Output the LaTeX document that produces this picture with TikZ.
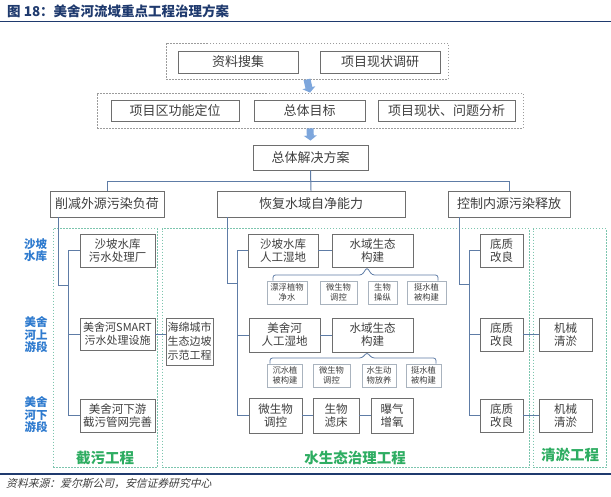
\documentclass[tikz,border=0pt]{standalone}
\usepackage{fontspec}
\setmainfont{Noto Sans CJK SC}
\newfontfamily\srcfont[FakeSlant=0.25]{Noto Sans CJK SC}
\usetikzlibrary{arrows.meta}
\definecolor{boxc}{HTML}{6E6E6E}
\definecolor{sboxc}{HTML}{A9B3BE}
\definecolor{txtc}{HTML}{3F3F3F}
\definecolor{grpc}{HTML}{9C9C9C}
\definecolor{ggrpc}{HTML}{7CC5AE}
\definecolor{lnc}{HTML}{5E7CA6}
\definecolor{arrc}{HTML}{7DA6DC}
\definecolor{sidec}{HTML}{2F7BCF}
\definecolor{greenc}{HTML}{2EAD62}
\definecolor{navyc}{HTML}{1F3A6E}
\tikzset{
  bx/.style={draw=boxc, line width=0.9pt, fill=white, text=txtc, align=center, inner sep=0pt, font=\fontsize{13}{15}\selectfont},
  ibx/.style={bx, font=\fontsize{11.5}{13}\selectfont},
  sbx/.style={draw=sboxc, line width=0.7pt, fill=white, text=txtc, align=center, inner sep=0pt, font=\fontsize{8.3}{10.5}\selectfont},
  grp/.style={draw=grpc, line width=0.8pt, dash pattern=on 1.5pt off 1.5pt, inner sep=0pt},
  ggrp/.style={draw=ggrpc, line width=0.8pt, dash pattern=on 1.5pt off 1.5pt, inner sep=0pt},
  ln/.style={draw=lnc, line width=1pt},
  brc/.style={draw=lnc, line width=0.8pt, rounded corners=2.5pt},
  blkarrow/.style={draw=arrc, line width=7pt, -{Triangle[width=13pt,length=5pt]}},
  side/.style={text=sidec, align=center, inner sep=0pt, font=\bfseries\fontsize{11.5}{12.5}\selectfont},
  glabel/.style={text=greenc, inner sep=0pt, font=\bfseries\fontsize{14.5}{16}\selectfont}
}
\begin{document}
\begin{tikzpicture}[x=1pt,y=-1pt]
\useasboundingbox (0,0) rectangle (611,496);
\fill[white] (0,0) rectangle (611,496);
% title and rules
\node[anchor=west, text=navyc, inner sep=0pt, font=\bfseries\fontsize{13.5}{15}\selectfont] (title) at (7,11) {图 18：美舍河流域重点工程治理方案};
\draw[navyc, line width=1.2pt] (0,21.5) -- (611,21.5);
\draw[navyc, line width=1.2pt] (0,474) -- (611,474);
\node[anchor=west, text=txtc, inner sep=0pt, font=\srcfont\fontsize{10.8}{12}\selectfont] (src) at (6,483.5) {资料来源：爱尔斯公司，安信证券研究中心};

% groups
\node[grp, minimum width=282pt, minimum height=36pt] (g1) at (307,61) {};
\node[grp, minimum width=426pt, minimum height=35pt] (g2) at (310,110.5) {};
\node[ggrp, minimum width=104pt, minimum height=239pt] (gj) at (105,348) {};
\node[ggrp, minimum width=367pt, minimum height=239pt] (gs) at (345.5,348) {};
\node[ggrp, minimum width=73pt, minimum height=239pt] (gq) at (569.5,348) {};
\node[glabel] (lj) at (105,458) {截污工程};
\node[glabel] (ls) at (355,458) {水生态治理工程};
\node[glabel] (lq) at (570,455) {清淤工程};

% side labels
\node[side] (sd1) at (35.5,250) {沙坡\\水库};
\node[side] (sd2) at (36,335) {美舍\\河上\\游段};
\node[side] (sd3) at (36,415) {美舍\\河下\\游段};

% top boxes
\node[bx, minimum width=120pt, minimum height=22pt] (zl) at (238,62) {资料搜集};
\node[bx, minimum width=120pt, minimum height=22pt] (xz) at (380,62) {项目现状调研};
\node[bx, minimum width=128pt, minimum height=21pt] (gn) at (175,110.5) {项目区功能定位};
\node[bx, minimum width=111pt, minimum height=21pt] (mb) at (309.5,110.5) {总体目标};
\node[bx, minimum width=137pt, minimum height=21pt] (fx) at (446.5,110.5) {项目现状、问题分析};
\node[bx, minimum width=115pt, minimum height=25pt] (zj) at (310.5,157.5) {总体解决方案};

\node[bx, minimum width=114pt, minimum height=26pt] (xj) at (107,204) {削减外源污染负荷};
\node[bx, minimum width=188pt, minimum height=26pt] (hf) at (311,204) {恢复水域自净能力};
\node[bx, minimum width=122pt, minimum height=26pt] (kz) at (509,204) {控制内源污染释放};

% left column
\node[ibx, minimum width=75pt, minimum height=33pt] (sp) at (117.5,250.5) {沙坡水库\\污水处理厂};
\node[ibx, font=\fontsize{11}{13}\selectfont, minimum width=75pt, minimum height=32pt] (sm) at (117.5,334) {美舍河SMART\\污水处理设施};
\node[ibx, minimum width=75pt, minimum height=33pt] (xy) at (117.5,415.5) {美舍河下游\\截污管网完善};
\node[ibx, font=\fontsize{11}{14}\selectfont, minimum width=47pt, minimum height=47pt] (hm) at (189.5,341.5) {海绵城市\\生态边坡\\示范工程};

% middle column
\node[ibx, minimum width=70pt, minimum height=33pt] (s1) at (283,250.5) {沙坡水库\\人工湿地};
\node[ibx, minimum width=81pt, minimum height=33pt] (s2) at (372.5,250.5) {水域生态\\构建};
\node[sbx, minimum width=40pt, minimum height=23pt] (s11) at (287,292.5) {漂浮植物\\净水};
\node[sbx, minimum width=37pt, minimum height=23pt] (s12) at (338.5,292.5) {微生物\\调控};
\node[sbx, minimum width=29pt, minimum height=23pt] (s13) at (382.5,292.5) {生物\\操纵};
\node[sbx, minimum width=39pt, minimum height=23pt] (s14) at (426.5,292.5) {挺水植\\被构建};

\node[ibx, minimum width=71pt, minimum height=34pt] (m1) at (284.5,335) {美舍河\\人工湿地};
\node[ibx, minimum width=81pt, minimum height=34pt] (m2) at (372.5,335) {水域生态\\构建};
\node[sbx, minimum width=35pt, minimum height=23pt] (s21) at (285,375.5) {沉水植\\被构建};
\node[sbx, minimum width=37pt, minimum height=23pt] (s22) at (331.5,375.5) {微生物\\调控};
\node[sbx, minimum width=34pt, minimum height=23pt] (s23) at (379,375.5) {水生动\\物放养};
\node[sbx, minimum width=35pt, minimum height=23pt] (s24) at (423.5,375.5) {挺水植\\被构建};

\node[ibx, minimum width=53pt, minimum height=35pt] (w1) at (275.5,415.5) {微生物\\调控};
\node[ibx, minimum width=46pt, minimum height=35pt] (w2) at (336,415.5) {生物\\滤床};
\node[ibx, minimum width=42pt, minimum height=35pt] (w3) at (392,415.5) {曝气\\增氧};

% right column
\node[ibx, minimum width=43pt, minimum height=33pt] (d1) at (501.5,250.5) {底质\\改良};
\node[ibx, minimum width=43pt, minimum height=33pt] (d2) at (501.5,334.5) {底质\\改良};
\node[ibx, minimum width=43pt, minimum height=33pt] (d3) at (501.5,415.5) {底质\\改良};
\node[ibx, minimum width=53pt, minimum height=33pt] (j2) at (565.5,334.5) {机械\\清淤};
\node[ibx, minimum width=53pt, minimum height=33pt] (j3) at (565.5,415.5) {机械\\清淤};

% block arrows
\draw[blkarrow] (g1.south) -- (g2.north);
\draw[blkarrow] (g2.south) -- ([yshift=4pt]zj.north);

% tree connectors
\draw[ln] (zj.south) -- (hf.north);
\draw[ln] (xj.north) -- ++(0,-9) -| (kz.north);

\draw[ln] (xj.south -| 58,0) -- (58,285) -- (68,285);
\draw[ln] (sp.west) -- (sp.west -| 68,0) -- (xy.west -| 68,0) -- (xy.west);
\draw[ln] (sm.west -| 68,0) -- (sm.west);
\draw[ln] (sm.east) -- (hm.west |- sm.east);

\draw[ln] (hf.south -| 227,0) -- (227,283) -- (237,283);
\draw[ln] (s1.west) -- (s1.west -| 237,0) -- (w1.west -| 237,0) -- (w1.west);
\draw[ln] (m1.west -| 237,0) -- (m1.west);
\draw[ln] (s1.east) -- (s2.west);
\draw[ln] (m1.east) -- (m2.west);
\draw[ln] (w1.east) -- (w2.west);
\draw[ln] (w2.east) -- (w3.west);

\draw[brc] (s11.north -| 273,0) -- (273,275) -- (362,275) -- (s2.south -| 367,0) -- (372,275) -- (438,275) -- (s14.north -| 438,0);
\draw[brc] (s21.north -| 270,0) -- (270,358) -- (362,358) -- (m2.south -| 367,0) -- (372,358) -- (436,358) -- (s24.north -| 436,0);

\draw[ln] (kz.south -| 459,0) -- (459,284) -- (469,284);
\draw[ln] (d1.west) -- (d1.west -| 469,0) -- (d3.west -| 469,0) -- (d3.west);
\draw[ln] (d2.west -| 469,0) -- (d2.west);
\draw[ln] (d2.east) -- (j2.west);
\draw[ln] (d3.east) -- (j3.west);
\end{tikzpicture}
\end{document}
